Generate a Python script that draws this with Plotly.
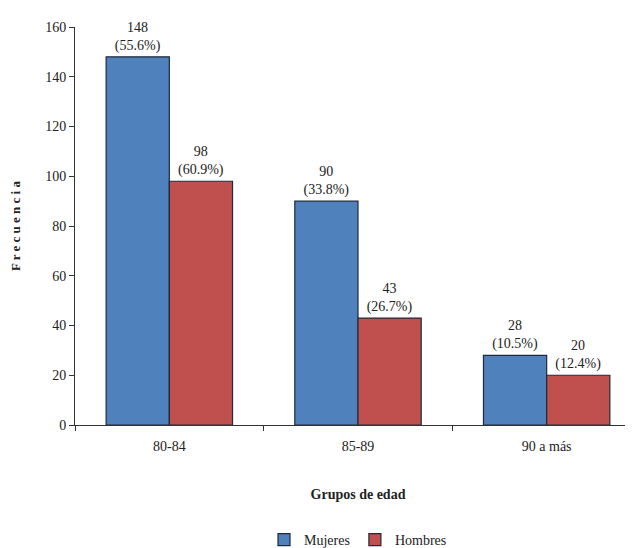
import plotly.graph_objects as go

categories = ["80-84", "85-89", "90 a más"]
mujeres = [148, 90, 28]
hombres = [98, 43, 20]
pct_mujeres = ["55.6%", "33.8%", "10.5%"]
pct_hombres = ["60.9%", "26.7%", "12.4%"]

font_family = "Liberation Serif"

fig = go.Figure()
fig.add_trace(go.Bar(
    name="Mujeres", x=categories, y=mujeres, customdata=pct_mujeres,
    texttemplate="%{y}<br>(%{customdata})", textposition="outside",
    marker=dict(color="#4F81BD", line=dict(color="#1F2A3A", width=1.2)),
    cliponaxis=False,
))
fig.add_trace(go.Bar(
    name="Hombres", x=categories, y=hombres, customdata=pct_hombres,
    texttemplate="%{y}<br>(%{customdata})", textposition="outside",
    marker=dict(color="#C0504D", line=dict(color="#1F2A3A", width=1.2)),
    cliponaxis=False,
))

fig.update_layout(
    width=633, height=548,
    barmode="group", bargap=0.33, bargroupgap=0,
    plot_bgcolor="white", paper_bgcolor="white",
    font=dict(family=font_family, size=14, color="#222222"),
    margin=dict(l=67, r=0, t=19, b=131),
    legend=dict(orientation="h", x=0.5, xanchor="center", y=-0.25, yanchor="top",
                font=dict(size=14), traceorder="normal"),
    xaxis=dict(
        title=dict(text="<b>Grupos de edad</b>", font=dict(size=14), standoff=36),
        showline=True, linecolor="#333333", linewidth=1,
        ticks="outside", tickson="boundaries", ticklen=5, tickcolor="#333333",
        range=[-0.5, 2.5], tickfont=dict(size=14), ticklabelstandoff=8,
    ),
    yaxis=dict(
        title=dict(text="<b>F r e c u e n c i a</b>", font=dict(size=13), standoff=28),
        range=[0, 160], dtick=20, showgrid=False, zeroline=False,
        showline=True, linecolor="#333333", linewidth=1,
        ticks="outside", ticklen=5, tickcolor="#333333",
        tickfont=dict(size=14),
    ),
)
fig.update_traces(textfont=dict(size=14, family=font_family, color="#222222"))

fig.write_html("out.html")
